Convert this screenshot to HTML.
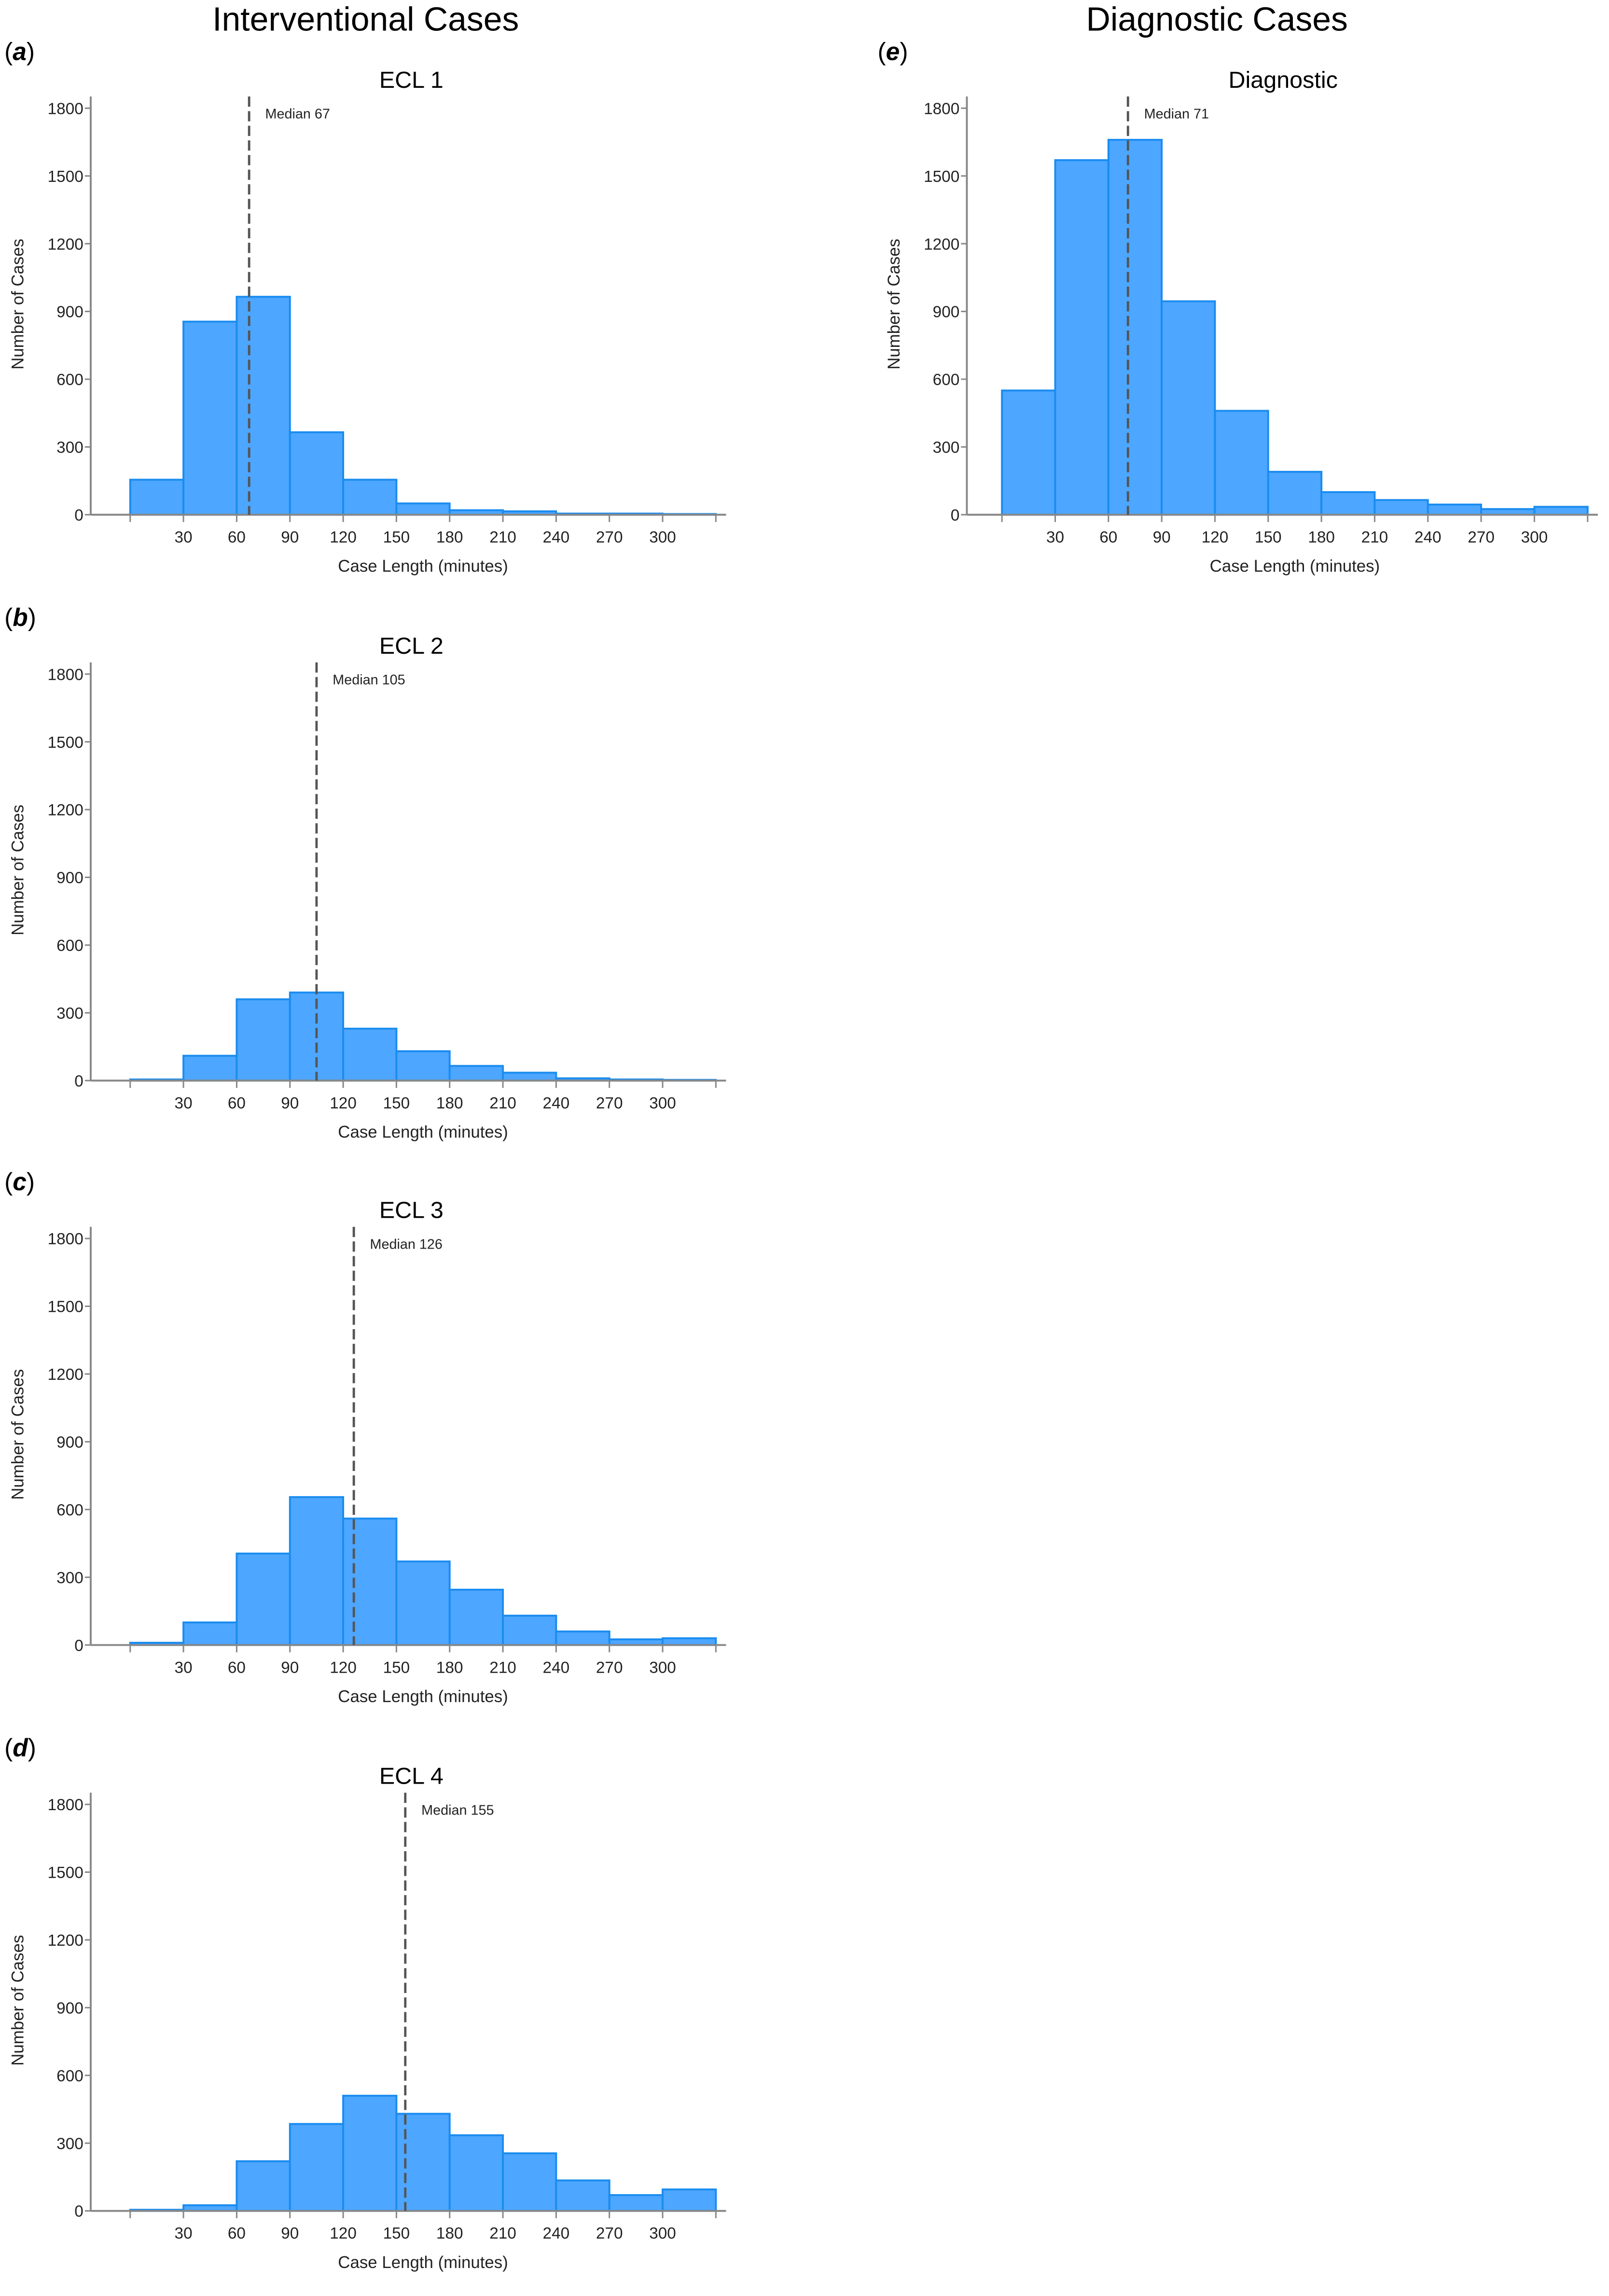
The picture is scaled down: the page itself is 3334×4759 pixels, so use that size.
<!DOCTYPE html>
<html><head><meta charset="utf-8"><style>
html,body{margin:0;padding:0;background:#fff;}
svg{display:block;font-family:"Liberation Sans",Arial,sans-serif;}
</style></head><body>
<svg id="fig" width="3334" height="4759" viewBox="0 0 1100 1570.2" xmlns="http://www.w3.org/2000/svg">
<text x="250" y="21" font-size="23" text-anchor="middle">Interventional Cases</text>
<text x="832" y="21" font-size="23" text-anchor="middle">Diagnostic Cases</text>
</svg>
<script>
const binEdges = [0,30,60,90,120,150,180,210,240,270,300,330];
const xTickLabels = [30,60,90,120,150,180,210,240,270,300];
const yTicks = [0,300,600,900,1200,1500,1800];
const countsA = [155,855,965,365,155,50,20,15,5,5,3];
const countsB = [5,110,360,390,230,130,65,35,10,5,3];
const countsC = [10,100,405,655,560,370,245,130,60,25,30];
const countsD = [5,25,220,385,510,430,335,255,135,70,95];
const countsE = [550,1570,1660,945,460,190,100,65,45,25,35];
const medians = [67,105,126,155,71];
const panelTitles = ["ECL 1","ECL 2","ECL 3","ECL 4","Diagnostic"];
const panelLetters = ["a","b","c","d","e"];

const NS = "http://www.w3.org/2000/svg";
const svg = document.getElementById('fig');
function mk(tag, attrs, parent){
  const e = document.createElementNS(NS, tag);
  for (const k in attrs) e.setAttribute(k, attrs[k]);
  (parent||svg).appendChild(e);
  return e;
}
const layouts = [
  {ax:62, x0:89, base:352, letterX:3},
  {ax:62, x0:89, base:739, letterX:3},
  {ax:62, x0:89, base:1125, letterX:3},
  {ax:62, x0:89, base:1512, letterX:3},
  {ax:661, x0:685, base:352, letterX:600}
];
const allCounts = [countsA,countsB,countsC,countsD,countsE];
const pxPerMin = 36.4/30;
const pxPerCount = 278/1800;

layouts.forEach((L, i) => {
  const g = mk('g', {});
  
  
  const xs = v => L.x0 + v*pxPerMin;
  const ys = v => L.base - v*pxPerCount;
  const xEnd = xs(330);
  const cx = (xs(0)+xEnd)/2;
  const lt = mk('text', {x:L.letterX, y:L.base-311, 'font-size':17}, g);
  
  
  lt.innerHTML = '(<tspan font-weight="bold" font-style="italic">' + panelLetters[i] + '</tspan>)';
  const tt = mk('text', {x:cx-8, y:L.base-292, 'font-size':16, 'text-anchor':'middle'}, g);
  
  
  tt.textContent = panelTitles[i];
  const counts = allCounts[i];
  counts.forEach((c, j) => {
    const x1 = xs(binEdges[j]), x2 = xs(binEdges[j+1]);
    const r = mk('rect', {x:x1, y:ys(c), width:x2-x1, height:Math.max(0,L.base-ys(c)), fill:'#4da6ff', stroke:'#1a8cf0', 'stroke-width':1.3}, g);
    
    
  });
  const ya = mk('line', {x1:L.ax, y1:L.base-286, x2:L.ax, y2:L.base, stroke:'#888', 'stroke-width':1.3}, g);
  
  
  const xa = mk('line', {x1:L.ax, y1:L.base, x2:xEnd+7, y2:L.base, stroke:'#888', 'stroke-width':1.3}, g);
  
  
  yTicks.forEach(v => {
    mk('line', {x1:L.ax-4, y1:ys(v), x2:L.ax, y2:ys(v), stroke:'#888', 'stroke-width':1}, g);
    const t = mk('text', {x:L.ax-5, y:ys(v)+4, 'font-size':11, 'text-anchor':'end', fill:'#222'}, g);
    
    
    t.textContent = v;
  });
  binEdges.forEach(v => {
    mk('line', {x1:xs(v), y1:L.base, x2:xs(v), y2:L.base+5, stroke:'#888', 'stroke-width':1}, g);
  });
  xTickLabels.forEach(v => {
    const t = mk('text', {x:xs(v), y:L.base+19, 'font-size':11, 'text-anchor':'middle', fill:'#222'}, g);
    
    
    t.textContent = v;
  });
  const xt = mk('text', {x:cx, y:L.base+39, 'font-size':11.5, 'text-anchor':'middle', fill:'#222'}, g);
  
  
  xt.textContent = 'Case Length (minutes)';
  const yt = mk('text', {x:0, y:0, 'font-size':11.5, 'text-anchor':'middle', fill:'#222', transform:'translate(' + (L.ax-46) + ',' + (L.base-144) + ') rotate(-90)'}, g);
  
  
  yt.textContent = 'Number of Cases';
  const mx = xs(medians[i]);
  const ml = mk('line', {x1:mx, y1:L.base-286, x2:mx, y2:L.base, stroke:'#555', 'stroke-width':1.6, 'stroke-dasharray':'7,3'}, g);
  
  
  const mt = mk('text', {x:mx+11, y:L.base-271, 'font-size':9.5, fill:'#222'}, g);
  
  
  mt.textContent = 'Median ' + medians[i];
});
</script>
</body></html>
